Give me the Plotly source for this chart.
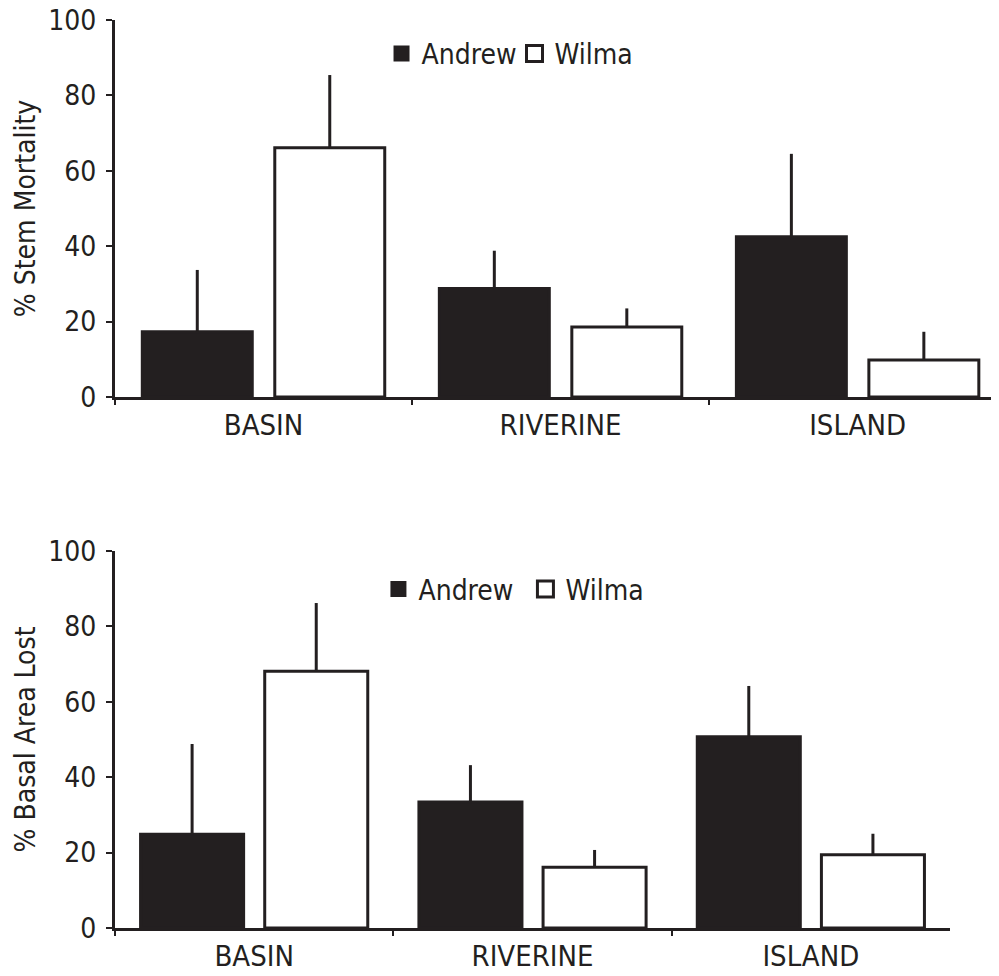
import plotly.graph_objects as go

# ---- data ----
categories = ["BASIN", "RIVERINE", "ISLAND"]
series_names = ["Andrew", "Wilma"]

stem_andrew = [17.3, 28.8, 42.5]
stem_andrew_se = [16.4, 10.0, 22.0]
stem_wilma = [66.1, 18.6, 9.8]
stem_wilma_se = [19.3, 4.9, 7.5]

basal_andrew = [24.9, 33.4, 50.7]
basal_andrew_se = [23.9, 9.8, 13.5]
basal_wilma = [68.1, 16.1, 19.4]
basal_wilma_se = [18.1, 4.6, 5.6]

y_ticks = [0, 20, 40, 60, 80, 100]
y_titles = ["% Stem Mortality", "% Basal Area Lost"]

# ---- styles ----
INK = "#231f20"
FONT = "DejaVu Sans Condensed, Liberation Sans, Arial, sans-serif"
fill = {"Andrew": INK, "Wilma": "white"}

fig = go.Figure()

panels = [
    ("x", "y", "legend", stem_andrew, stem_andrew_se, stem_wilma, stem_wilma_se),
    ("x2", "y2", "legend2", basal_andrew, basal_andrew_se, basal_wilma, basal_wilma_se),
]

for xa, ya, lg, a_vals, a_se, w_vals, w_se in panels:
    for name, vals, se in [("Andrew", a_vals, a_se), ("Wilma", w_vals, w_se)]:
        fig.add_trace(go.Bar(
            x=categories, y=vals, name=name, xaxis=xa, yaxis=ya,
            marker=dict(color=fill[name], line=dict(color=INK, width=3)),
            error_y=dict(type="data", symmetric=False, array=se,
                         arrayminus=[0] * len(se), width=0,
                         thickness=3, color=INK),
            showlegend=False,
        ))
    # legend entries
    for name in series_names:
        fig.add_trace(go.Scatter(
            x=[None], y=[None], mode="markers", name=name,
            xaxis=xa, yaxis=ya, legend=lg,
            marker=dict(symbol="square", size=20, color=fill[name],
                        line=dict(color=INK, width=3 if name == "Wilma" else 0)),
        ))

tickfont_y = dict(family=FONT, size=28, color=INK)
tickfont_x = dict(family=FONT, size=29, color=INK)
common_x = dict(type="category", categoryorder="array", categoryarray=categories,
                showline=True, linecolor=INK, linewidth=3,
                ticks="outside", tickson="boundaries", ticklen=5, tickwidth=2,
                tickcolor=INK, tickfont=tickfont_x, showgrid=False, zeroline=False,
                automargin=False, ticklabeloverflow="allow")
common_y = dict(range=[0, 100], tickvals=y_ticks, showline=True, linecolor=INK,
                linewidth=3, ticks="outside", ticklen=6, tickwidth=2, tickcolor=INK,
                tickfont=tickfont_y, showgrid=False, zeroline=False, automargin=False,
                ticklabelstandoff=4, ticklabeloverflow="allow")

legend_style = dict(orientation="h", xanchor="left", yanchor="middle",
                    font=dict(family=FONT, size=28, color=INK),
                    bgcolor="rgba(0,0,0,0)", itemwidth=30)

title_font = dict(family=FONT, size=28, color=INK)

fig.update_layout(
    width=991, height=968,
    margin=dict(l=107, r=0, t=12, b=48),
    paper_bgcolor="white", plot_bgcolor="white",
    barmode="group", bargap=0.108, bargroupgap=0.17,
    xaxis=dict(domain=[0, 1], range=[-0.5, 2.476], anchor="y", **common_x),
    yaxis=dict(domain=[0.5848, 1.0], anchor="x",
               title=dict(text=y_titles[0], font=title_font, standoff=5),
               **common_y),
    xaxis2=dict(domain=[0, 0.9446], range=[-0.5, 2.5], anchor="y2", **common_x),
    yaxis2=dict(domain=[0, 0.4152], anchor="x2",
                title=dict(text=y_titles[1], font=title_font, standoff=5),
                **common_y),
    legend=dict(x=0.3015, y=0.9627, entrywidth=88, entrywidthmode="pixels", **legend_style),
    legend2=dict(x=0.298, y=0.373, entrywidth=102, entrywidthmode="pixels", **legend_style),
)

fig.write_html("out.html")
